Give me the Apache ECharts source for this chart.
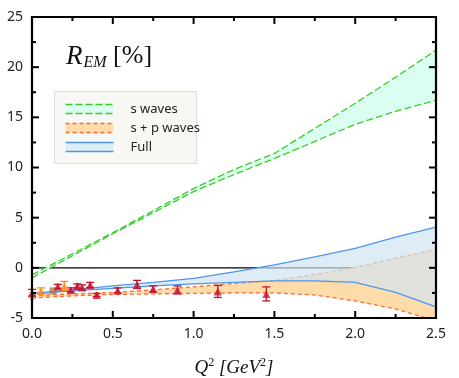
<!DOCTYPE html>
<html>
<head>
<meta charset="utf-8">
<script src="https://cdn.jsdelivr.net/npm/echarts@6/dist/echarts.min.js"></script>
<style>
  html, body { margin: 0; padding: 0; background: #fff; }
  #chart { width: 459px; height: 378px; }
</style>
</head>
<body>
<div id="chart"></div>
<script>
// Q^2 grid on which the model bands are given
const xGrid = [0, 0.25, 0.5, 0.75, 1.0, 1.25, 1.5, 1.75, 2.0, 2.25, 2.5];
// s waves band
const sUpper = [-0.7, 1.4, 3.5, 5.7, 7.9, 9.8, 11.4, 13.9, 16.4, 19.0, 21.7];
const sLower = [-1.0, 1.2, 3.4, 5.5, 7.6, 9.3, 10.9, 12.6, 14.3, 15.6, 16.7];
// s + p waves band
const spUpper = [-2.75, -2.6, -2.45, -2.2, -1.9, -1.55, -1.28, -0.65, 0.05, 0.95, 1.85];
const spLower = [-3.0, -2.8, -2.65, -2.6, -2.55, -2.5, -2.5, -2.7, -3.3, -4.1, -5.3];
// full band
const fullUpper = [-2.55, -2.2, -1.8, -1.45, -1.05, -0.4, 0.3, 1.1, 1.95, 3.05, 4.05];
const fullLower = [-2.6, -2.3, -2.05, -1.8, -1.6, -1.45, -1.3, -1.3, -1.45, -2.45, -3.9];

// experimental points
const redX = [0.0, 0.16, 0.24, 0.28, 0.31, 0.36, 0.40, 0.53, 0.65, 0.75, 0.90, 1.15, 1.45];
const redY = [-2.5, -1.85, -2.2, -1.8, -1.95, -1.7, -2.7, -2.25, -1.65, -2.1, -2.2, -2.35, -2.6];
const redErr = [0.35, 0.2, 0.2, 0.2, 0.25, 0.25, 0.15, 0.25, 0.4, 0.3, 0.4, 0.6, 0.7];
const orangeX = [0.055, 0.2];
const orangeY = [-2.3, -1.8];
const orangeErr = [0.3, 0.45];
const brownX = [0.13];
const brownY = [-2.3];
const paleX = [0.0];
const paleY = [-3.15];

// tick positions for the box frame
const xMajor = [0, 0.5, 1.0, 1.5, 2.0, 2.5];
const xMinor = [0.25, 0.75, 1.25, 1.75, 2.25];
const yMajor = [-5, 0, 5, 10, 15, 20, 25];
const yMinor = [-2.5, 2.5, 7.5, 12.5, 17.5, 22.5];

const sansFont = 'Noto Sans';
const serifFont = 'Liberation Serif';

function pairs(xs, ys) {
  return xs.map((x, i) => [x, ys[i]]);
}

function band(name, upper, lower, fill, z) {
  return {
    name: name,
    type: 'custom',
    z: z,
    silent: true,
    clip: true,
    data: [[0, 0]],
    renderItem: function (params, api) {
      const pts = [];
      xGrid.forEach((x, i) => pts.push(api.coord([x, upper[i]])));
      for (let i = xGrid.length - 1; i >= 0; i--) pts.push(api.coord([xGrid[i], lower[i]]));
      return { type: 'polygon', shape: { points: pts }, style: { fill: fill } };
    }
  };
}

function curve(name, ys, color, dash, z) {
  return {
    name: name,
    type: 'line',
    z: z,
    silent: true,
    symbol: 'none',
    data: pairs(xGrid, ys),
    lineStyle: { color: color, width: 1.3, type: dash }
  };
}

function errBars(xs, ys, errs, color) {
  return {
    type: 'custom',
    z: 20,
    silent: true,
    data: xs.map((x, i) => [x, ys[i], errs[i]]),
    renderItem: function (params, api) {
      const x = api.value(0), y = api.value(1), e = api.value(2);
      const top = api.coord([x, y + e]);
      const bot = api.coord([x, y - e]);
      const w = 4;
      const st = { stroke: color, lineWidth: 1.3 };
      return {
        type: 'group',
        children: [
          { type: 'line', shape: { x1: top[0], y1: top[1], x2: bot[0], y2: bot[1] }, style: st },
          { type: 'line', shape: { x1: top[0] - w, y1: top[1], x2: top[0] + w, y2: top[1] }, style: st },
          { type: 'line', shape: { x1: bot[0] - w, y1: bot[1], x2: bot[0] + w, y2: bot[1] }, style: st }
        ]
      };
    }
  };
}

function points(xs, ys, symbol, size, color) {
  return {
    type: 'scatter',
    z: 21,
    silent: true,
    symbol: symbol,
    symbolSize: size,
    data: pairs(xs, ys),
    itemStyle: { color: color }
  };
}

// box frame with inward ticks on all four sides, placed with the axis scales
function frame() {
  return {
    type: 'custom',
    z: 60,
    silent: true,
    data: [[0, 0]],
    renderItem: function (params, api) {
      const lo = api.coord([0, -5]);
      const hi = api.coord([2.5, 25]);
      const st = { stroke: '#000', lineWidth: 2 };
      const kids = [{
        type: 'rect',
        shape: { x: lo[0], y: hi[1], width: hi[0] - lo[0], height: lo[1] - hi[1] },
        style: { fill: 'none', stroke: '#000', lineWidth: 2.2 }
      }];
      const xt = (v, len) => {
        const p = api.coord([v, 0])[0];
        kids.push({ type: 'line', shape: { x1: p, y1: lo[1], x2: p, y2: lo[1] - len }, style: st });
        kids.push({ type: 'line', shape: { x1: p, y1: hi[1], x2: p, y2: hi[1] + len }, style: st });
      };
      const yt = (v, len) => {
        const p = api.coord([0, v])[1];
        kids.push({ type: 'line', shape: { x1: lo[0], y1: p, x2: lo[0] + len, y2: p }, style: st });
        kids.push({ type: 'line', shape: { x1: hi[0], y1: p, x2: hi[0] - len, y2: p }, style: st });
      };
      xMajor.forEach(v => xt(v, 7));
      xMinor.forEach(v => xt(v, 4));
      yMajor.forEach(v => yt(v, 7));
      yMinor.forEach(v => yt(v, 4));
      return { type: 'group', children: kids };
    }
  };
}

const green = '#3ccc28';
const orange = '#ff6a33';
const blue = '#4f95ec';

let chart = echarts.init(document.getElementById('chart'));

chart.setOption({
  animation: false,
  grid: { left: 32, right: 23, top: 17, bottom: 60, outerBoundsMode: 'none' },
  xAxis: {
    type: 'value', min: 0, max: 2.5, interval: 0.5,
    axisLine: { show: false },
    axisTick: { show: false },
    splitLine: { show: false },
    axisLabel: { formatter: v => v.toFixed(1), color: '#222', fontSize: 14, fontFamily: sansFont, margin: 9 },
    name: '{i|Q}{s|2}{i| [GeV}{s|2}{i|]}',
    nameLocation: 'middle',
    nameGap: 39,
    nameTextStyle: {
      color: '#111',
      rich: {
        i: { fontFamily: serifFont, fontStyle: 'italic', fontSize: 19, color: '#111' },
        s: { fontFamily: serifFont, fontSize: 12, color: '#111', padding: [0, 0, 9, 0] }
      }
    }
  },
  yAxis: {
    type: 'value', min: -5, max: 25, interval: 5,
    axisLine: { show: false },
    axisTick: { show: false },
    splitLine: { show: false },
    axisLabel: { color: '#222', fontSize: 14, fontFamily: sansFont, margin: 9 }
  },
  series: [
    {
      type: 'line', z: 1, silent: true, symbol: 'none',
      data: [[0, 0], [2.5, 0]],
      lineStyle: { color: '#000', width: 1.3 }
    },
    band('s+p fill', spUpper, spLower, '#fedcaa', 2),
    curve('s+p upper', spUpper, orange, [4, 3], 3),
    curve('s+p lower', spLower, orange, [4, 3], 3),
    band('s fill', sUpper, sLower, '#dafff0', 2),
    curve('s upper', sUpper, green, [7, 3], 3),
    curve('s lower', sLower, green, [7, 3], 3),
    band('full fill', fullUpper, fullLower, 'rgba(207,229,240,0.68)', 5),
    curve('full upper', fullUpper, blue, 'solid', 6),
    curve('full lower', fullLower, blue, 'solid', 6),
    errBars(redX, redY, redErr, '#c8102e'),
    errBars(orangeX, orangeY, orangeErr, '#ff8c1a'),
    points(paleX, paleY, 'path://M0,0 L10,0 L5,9 Z', 8, '#d9a07a'),
    points(brownX, brownY, 'rect', 7, '#a87a48'),
    points(orangeX, orangeY, 'triangle', 8, '#ff8c1a'),
    points(redX, redY, 'triangle', 8, '#c8102e'),
    frame()
  ],
  graphic: [
    {
      type: 'text', left: 66, top: 43, z: 100,
      style: {
        text: '{r|R}{sub|EM}{b| [%]}',
        rich: {
          r: { fontFamily: serifFont, fontStyle: 'italic', fontSize: 27, fill: '#111' },
          sub: { fontFamily: serifFont, fontStyle: 'italic', fontSize: 16, fill: '#111', padding: [12, 0, 0, 1] },
          b: { fontFamily: serifFont, fontSize: 26, fill: '#111' }
        }
      }
    },
    {
      type: 'group', left: 54, top: 91, z: 100,
      children: [
        { type: 'rect', shape: { x: 0, y: 0, width: 142, height: 72 }, style: { fill: '#f7f7f3', stroke: '#dddddd', lineWidth: 1 } },
        // s waves swatch
        { type: 'rect', shape: { x: 11, y: 13, width: 48, height: 9 }, style: { fill: '#dafff0' } },
        { type: 'line', shape: { x1: 11, y1: 13, x2: 59, y2: 13 }, style: { stroke: green, lineWidth: 1.3, lineDash: [7, 3] } },
        { type: 'line', shape: { x1: 11, y1: 22, x2: 59, y2: 22 }, style: { stroke: green, lineWidth: 1.3, lineDash: [7, 3] } },
        { type: 'text', x: 76, y: 17.5, style: { text: 's waves', fill: '#222', fontSize: 13, fontFamily: sansFont, verticalAlign: 'middle' } },
        // s + p waves swatch
        { type: 'rect', shape: { x: 11, y: 32, width: 48, height: 9, r: 2 }, style: { fill: '#fedcaa' } },
        { type: 'line', shape: { x1: 11, y1: 32, x2: 59, y2: 32 }, style: { stroke: orange, lineWidth: 1.3, lineDash: [4, 3] } },
        { type: 'line', shape: { x1: 11, y1: 41, x2: 59, y2: 41 }, style: { stroke: orange, lineWidth: 1.3, lineDash: [4, 3] } },
        { type: 'text', x: 76, y: 36.5, style: { text: 's + p waves', fill: '#222', fontSize: 13, fontFamily: sansFont, verticalAlign: 'middle' } },
        // full swatch
        { type: 'rect', shape: { x: 11, y: 51, width: 48, height: 9 }, style: { fill: '#dcedf7' } },
        { type: 'line', shape: { x1: 11, y1: 51, x2: 59, y2: 51 }, style: { stroke: blue, lineWidth: 1.3 } },
        { type: 'line', shape: { x1: 11, y1: 60, x2: 59, y2: 60 }, style: { stroke: blue, lineWidth: 1.3 } },
        { type: 'text', x: 76, y: 55.5, style: { text: 'Full', fill: '#222', fontSize: 13, fontFamily: sansFont, verticalAlign: 'middle' } }
      ]
    }
  ]
});
</script>
</body>
</html>
